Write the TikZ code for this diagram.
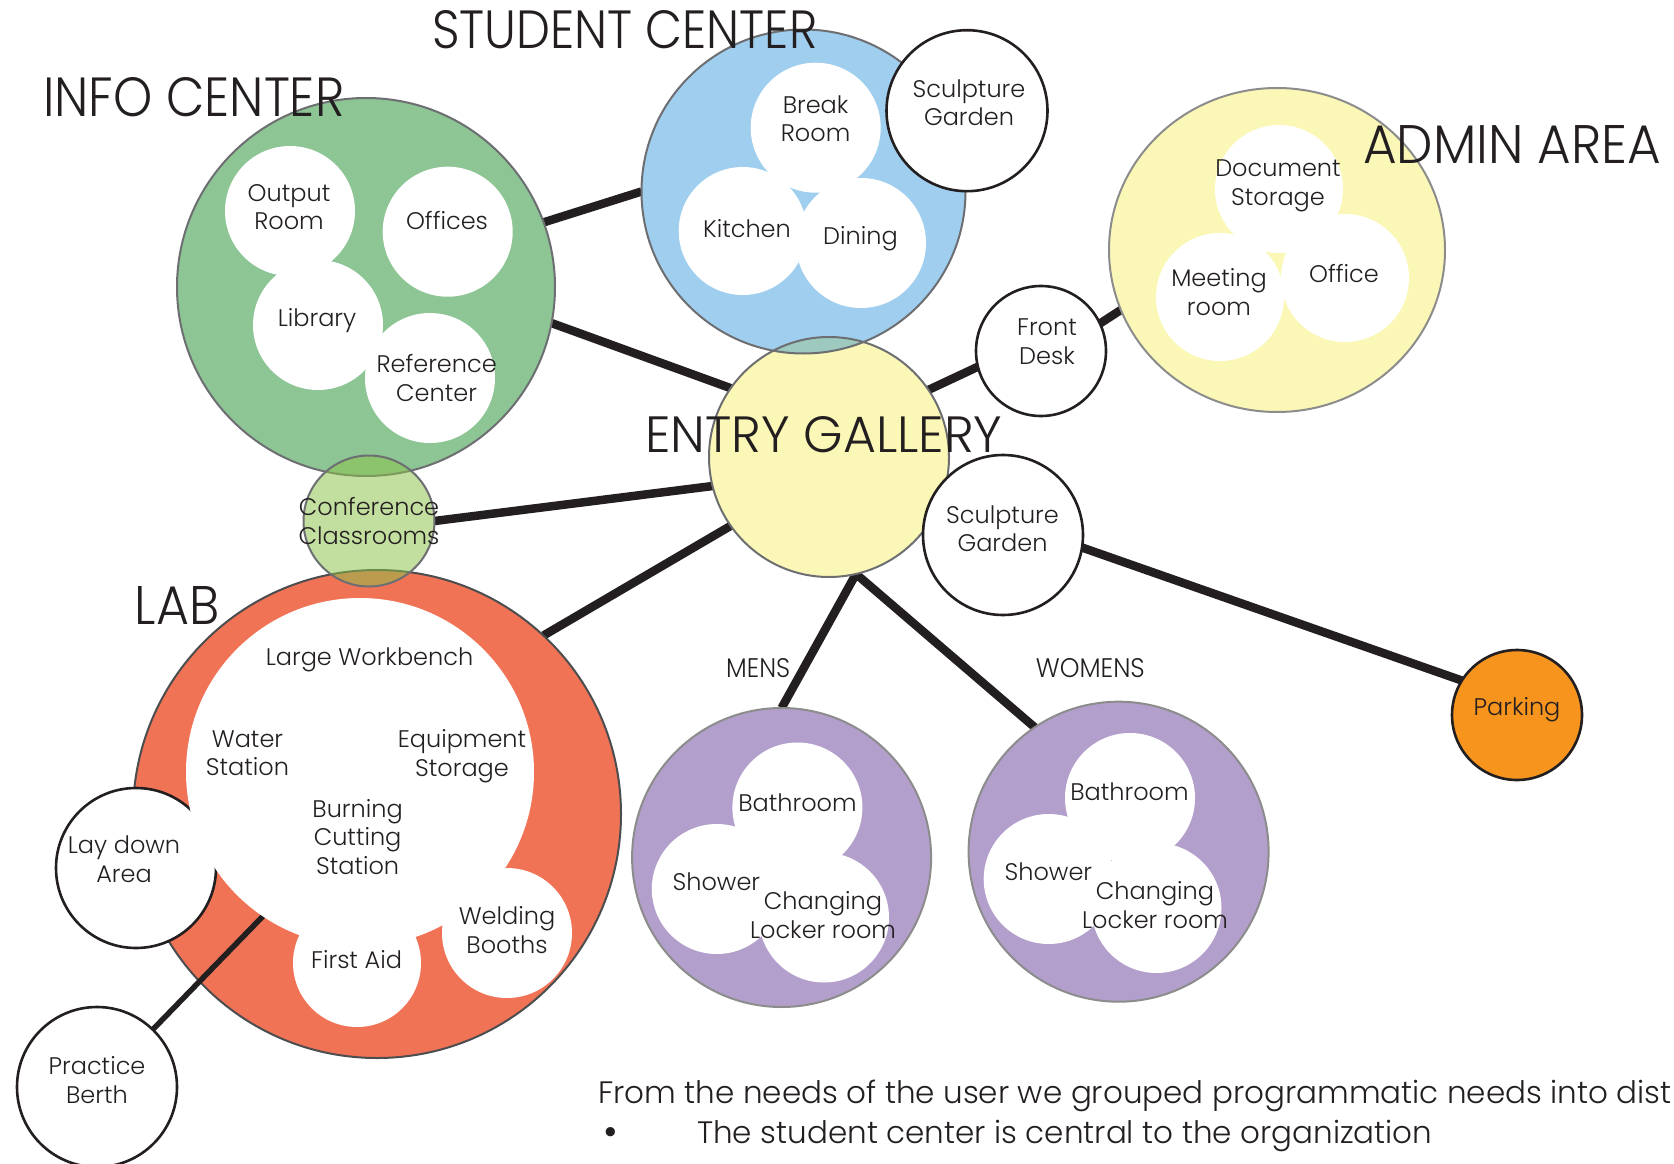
\documentclass[tikz,border=0pt]{standalone}
\usepackage{fontspec}
\setmainfont{Poppins Light}
\newfontfamily\titlefont{Poppins Light}
\usepackage{graphicx}
\usetikzlibrary{calc,shapes.geometric}
\pgfdeclarelayer{bg}
\pgfsetlayers{bg,main}

\definecolor{infogreen}{RGB}{141,197,149}
\definecolor{stublue}{RGB}{160,206,238}
\definecolor{admyellow}{RGB}{251,247,182}
\definecolor{labred}{RGB}{240,115,86}
\definecolor{purp}{RGB}{179,159,203}
\definecolor{parkorange}{RGB}{247,148,29}
\definecolor{confgreen}{RGB}{140,194,74}
\definecolor{overteal}{RGB}{157,201,190}
\definecolor{edgegray}{RGB}{109,110,113}
\definecolor{softgray}{RGB}{140,140,140}
\definecolor{ink}{RGB}{35,31,32}

\newcommand\ztitle[3]{\resizebox{#1pt}{#2pt}{\titlefont #3}}

\begin{document}
\begin{tikzpicture}[x=1pt,y=-1pt,
  zone/.style={circle, inner sep=0pt, outer sep=0pt, minimum size=#1, line width=2pt, draw=edgegray},
  room/.style={circle, inner sep=0pt, outer sep=0pt, minimum size=#1, fill=white},
  extbox/.style={circle, inner sep=0pt, outer sep=0pt, minimum size=#1, fill=white, draw=ink, line width=2.6pt},
  link/.style={draw=ink, line width=8.5pt},
  lbl/.style={font=\fontsize{24}{28.5}\selectfont, align=center, text=ink, inner sep=0pt},
  para/.style={font=\fontsize{31}{38}\selectfont, text=ink, inner sep=0pt, anchor=base west},
  ttl/.style={inner sep=0pt, anchor=south west, text=ink}]

\useasboundingbox (0,0) rectangle (1674,1164);

% ---------- INFO CENTER ----------
\node[zone=378pt, fill=infogreen] (info) at (366,287) {};
\node[room=130pt] (outroom) at (290,211) {};
\node[room=130pt] (offices) at (447.7,231.7) {};
\node[room=130pt] (library) at (318,325) {};
\node[room=130pt] (refc) at (430,378) {};

% ---------- STUDENT CENTER ----------
\node[zone=324pt, fill=stublue] (student) at (803.5,191.5) {};
\node[room=130pt] (breakr) at (815.7,127.7) {};
\node[room=128pt] (kitchen) at (742.7,231) {};
\node[room=130pt] (dining) at (861,243) {};
\node[extbox=161pt] (sgtop) at (967,110.7) {};

% ---------- ADMIN AREA ----------
\node[ellipse, inner sep=0pt, outer sep=0pt, minimum width=336pt, minimum height=324pt, line width=2pt, fill=admyellow, draw=softgray] (admin) at (1277,250) {};
\node[room=128pt] (docst) at (1279,189) {};
\node[room=128pt] (meet) at (1220,297) {};
\node[room=128pt] (office) at (1345,278) {};
\node[extbox=130pt] (fdesk) at (1041,351) {};

% ---------- LAB ----------
\node[zone=488pt, fill=labred, draw=edgegray!70!black] (lab) at (377,814) {};
\node[extbox=160pt] (berth) at (97,1087) {};
\coordinate (berthend) at (300,878);
\draw[draw=ink, line width=5.5pt] (berthend) -- (berth);
\node[extbox=160pt] (laydown) at (136,868) {};
\node[room=348pt] (labcore) at (360,772) {};
\node[room=128pt] (firstaid) at (357,963) {};
\node[room=130pt] (welding) at (507,933) {};

% ---------- CONFERENCE ----------
\node[zone=131pt, fill=confgreen, fill opacity=0.53] (conf) at (369,521) {};

% ---------- ENTRY GALLERY ----------
\fill[admyellow] (829,457) circle[radius=120pt];
\begin{scope}
  \clip (803.5,191.5) circle[radius=162pt];
  \fill[overteal] (829,457) circle[radius=120pt];
\end{scope}
\begin{scope}
  \clip (829,457) circle[radius=120pt];
  \draw[edgegray, line width=2pt] (803.5,191.5) circle[radius=162pt];
\end{scope}
\node[zone=240pt] (entry) at (829,457) {};
\node[extbox=160pt] (sglow) at (1003,535) {};
\node[extbox=130pt, fill=parkorange] (park) at (1517,715) {};

% ---------- MENS / WOMENS ----------
\node[zone=299pt, fill=purp, draw=softgray] (mens) at (781.6,857.5) {};
\node[room=130pt] (mbath) at (797.4,807.5) {};
\node[room=130pt] (mshower) at (716.8,889) {};
\node[room=130pt] (mchange) at (824,917.5) {};
\node[zone=300pt, fill=purp, draw=softgray] (womens) at (1118.6,851.7) {};
\node[room=130pt] (wbath) at (1130,798) {};
\node[room=130pt] (wshower) at (1048.7,879) {};
\node[room=130pt] (wchange) at (1156.5,908) {};

% ---------- CONNECTORS ----------
\begin{pgfonlayer}{bg}
  \draw[link] (info.20.9) -- (student.180);
  \draw[link] (info.-11.3) -- (entry.145);
  \draw[link] (conf.0) -- (entry.194);
  \draw[link] (lab.47) -- (entry.215);
  \draw[link] (entry.34.5) -- (fdesk.194.5);
  \draw[link] (fdesk.25) -- (admin.201.5);
  \draw[link] (sglow.-9) -- (park.148);
  \draw[link, line join=miter] (mens.90) -- (entry.-77) -- (womens.124);
\end{pgfonlayer}

% ---------- LABELS ----------
\node[lbl] (tout) at (289,207) {Output\\Room};
\node[lbl] (toffices) at (447,221) {Offices};
\node[lbl] (tlibrary) at (317,321) {Library};
\node[lbl] (trefc) at (436.6,378) {Reference\\Center};
\node[lbl] (tbreak) at (815.6,118.5) {Break\\Room};
\node[lbl] (tkitchen) at (747,228.5) {Kitchen};
\node[lbl] (tdining) at (860.5,239) {Dining};
\node[lbl] (tsgtop) at (969,102.5) {Sculpture\\Garden};
\node[lbl] (tdoc) at (1278,186) {Document\\Storage};
\node[lbl] (tmeet) at (1219,292) {Meeting\\room};
\node[lbl] (toffice) at (1344,273.5) {Office};
\node[lbl] (tfdesk) at (1047,341.6) {Front\\Desk};
\node[lbl] (tsglow) at (1002.5,528.5) {Sculpture\\Garden};
\node[lbl] (tpark) at (1517,710) {Parking};
\node[lbl] (tconf) at (369,521) {Conference\\Classrooms};
\node[lbl] (tlarge) at (369.5,660) {Large Workbench};
\node[lbl] (twater) at (247.5,753) {Water\\Station};
\node[lbl] (tequip) at (462,756) {Equipment\\Storage};
\node[lbl] (tburn) at (357.6,837) {Burning\\Cutting\\Station};
\node[lbl] (tfirst) at (356.6,959.8) {First Aid};
\node[lbl] (tweld) at (507,930) {Welding\\Booths};
\node[lbl] (tlay) at (124,859) {Lay down\\Area};
\node[lbl] (tberth) at (97,1080) {Practice\\Berth};
\node[lbl] (tmbath) at (797.5,802.8) {Bathroom};
\node[lbl] (tmshower) at (716.4,881.8) {Shower};
\node[lbl] (tmchange) at (823,915) {Changing\\Locker room};
\node[lbl] (twbath) at (1129.5,792) {Bathroom};
\node[lbl] (twshower) at (1048.4,872.2) {Shower};
\node[lbl] (twchange) at (1155,905) {Changing\\Locker room};

% ---------- TITLES ----------
\node[ttl] (tistudent) at (432,49) {\ztitle{385}{38}{STUDENT CENTER}};
\node[ttl] (tiinfo) at (43,117) {\ztitle{301}{39}{INFO CENTER}};
\node[ttl] (tiadmin) at (1363,164) {\ztitle{298}{38}{ADMIN AREA}};
\node[ttl] (tientry) at (645,453) {\ztitle{357}{36}{ENTRY GALLERY}};
\node[ttl] (tilab) at (134.5,625) {\ztitle{84.5}{38}{LAB}};
\node[ttl] (timens) at (726,678) {\ztitle{64}{19}{MENS}};
\node[ttl] (tiwomens) at (1035.6,678) {\ztitle{109}{19}{WOMENS}};

% ---------- TEXT ----------
\node[para] (p1) at (598,1103) {From the needs of the user we grouped programmatic needs into dist};
\node[para, font=\fontsize{40}{38}\selectfont] (pbullet) at (603,1145) {\textbullet};
\node[para] (p2) at (697,1143) {The student center is central to the organization};
\end{tikzpicture}
\end{document}
